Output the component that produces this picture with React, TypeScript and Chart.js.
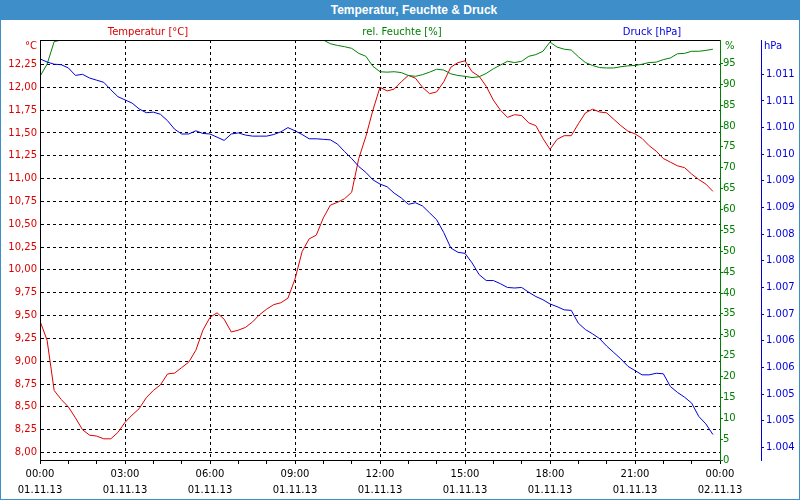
import React, { useEffect, useRef } from 'react';
import { Chart, registerables } from 'chart.js';

Chart.register(...registerables);

// ---- data (one reading every 15 minutes, starting 01.11.13 00:00) ----
const STEP_HOURS = 0.25;

const temperature = [
  9.44, 9.23, 8.68, 8.58, 8.50, 8.38, 8.25, 8.19, 8.18, 8.15, 8.15, 8.22,
  8.33, 8.41, 8.48, 8.60, 8.68, 8.74, 8.86, 8.87, 8.93, 8.99, 9.12, 9.34,
  9.48, 9.53, 9.46, 9.32, 9.34, 9.37, 9.43, 9.51, 9.57, 9.62, 9.64, 9.69,
  9.90, 10.20, 10.34, 10.38, 10.57, 10.71, 10.74, 10.78, 10.85, 11.22, 11.46, 11.75,
  12.00, 11.96, 11.98, 12.06, 12.13, 12.10, 12.00, 11.93, 11.95, 12.06, 12.22, 12.27,
  12.29, 12.17, 12.12, 12.01, 11.86, 11.75, 11.67, 11.70, 11.69, 11.61, 11.58, 11.44,
  11.32, 11.43, 11.47, 11.47, 11.60, 11.72, 11.76, 11.73, 11.72, 11.65, 11.58, 11.52,
  11.49, 11.44, 11.36, 11.30, 11.22, 11.18, 11.14, 11.12, 11.05, 10.99, 10.94, 10.86,
];

const humidity = [
  91.9, 94.8, 100.2, 100.6, 100.6, 100.6, 100.6, 100.6, 100.6, 100.6, 100.6, 100.6,
  100.6, 100.6, 100.6, 100.6, 100.6, 100.6, 100.6, 100.6, 100.6, 100.6, 100.6, 100.6,
  100.6, 100.6, 100.6, 100.6, 100.6, 100.6, 100.6, 100.6, 100.6, 100.6, 100.6, 100.6,
  100.6, 100.6, 100.6, 100.6, 100.6, 99.7, 99.3, 99.0, 98.6, 97.4, 96.7, 94.3,
  93.0, 92.9, 93.0, 92.8, 92.1, 91.9, 92.3, 92.9, 93.6, 93.4, 92.5, 92.1,
  91.9, 91.6, 91.8, 92.6, 93.7, 94.6, 95.5, 95.2, 95.5, 96.7, 97.1, 97.9,
  100.1, 98.9, 98.4, 98.2, 96.6, 95.2, 94.5, 94.0, 93.9, 93.9, 94.2, 94.4,
  94.5, 94.8, 95.2, 95.3, 95.9, 96.3, 97.3, 97.4, 97.9, 97.9, 98.1, 98.4,
];

const pressure = [
  1011.29, 1011.23, 1011.19, 1011.18, 1011.12, 1010.98, 1011.00, 1010.93, 1010.89, 1010.85, 1010.71, 1010.58,
  1010.52, 1010.46, 1010.35, 1010.28, 1010.29, 1010.25, 1010.13, 1009.97, 1009.88, 1009.88, 1009.94, 1009.89,
  1009.88, 1009.82, 1009.76, 1009.88, 1009.90, 1009.86, 1009.84, 1009.84, 1009.84, 1009.87, 1009.92, 1010.00,
  1009.94, 1009.87, 1009.79, 1009.79, 1009.78, 1009.77, 1009.69, 1009.55, 1009.42, 1009.27, 1009.16, 1009.02,
  1008.94, 1008.89, 1008.77, 1008.68, 1008.56, 1008.59, 1008.53, 1008.40, 1008.27, 1008.03, 1007.74, 1007.66,
  1007.64, 1007.46, 1007.24, 1007.13, 1007.13, 1007.07, 1007.00, 1006.99, 1007.00, 1006.91, 1006.83, 1006.77,
  1006.69, 1006.64, 1006.58, 1006.57, 1006.33, 1006.21, 1006.13, 1006.04, 1005.90, 1005.78, 1005.66, 1005.52,
  1005.44, 1005.36, 1005.36, 1005.39, 1005.38, 1005.14, 1005.03, 1004.94, 1004.83, 1004.58, 1004.44, 1004.24,
];

const hourTicks = [0, 1, 2, 3, 4, 5, 6, 7, 8, 9, 10, 11, 12, 13, 14, 15, 16, 17, 18, 19, 20, 21, 22, 23, 24];
const timeLabels = ['00:00', '03:00', '06:00', '09:00', '12:00', '15:00', '18:00', '21:00', '00:00'];
const dateLabels = ['01.11.13', '01.11.13', '01.11.13', '01.11.13', '01.11.13', '01.11.13', '01.11.13', '01.11.13', '02.11.13'];
const tempTicks = [8, 8.25, 8.5, 8.75, 9, 9.25, 9.5, 9.75, 10, 10.25, 10.5, 10.75, 11, 11.25, 11.5, 11.75, 12, 12.25];
const humidityTicks = [0, 5, 10, 15, 20, 25, 30, 35, 40, 45, 50, 55, 60, 65, 70, 75, 80, 85, 90, 95];
const pressureTicks = [1004, 1004.5, 1005, 1005.5, 1006, 1006.5, 1007, 1007.5, 1008, 1008.5, 1009, 1009.5, 1010, 1010.5, 1011];

const chartTitle = 'Temperatur, Feuchte & Druck';
const seriesTitles = ['Temperatur [°C]', 'rel. Feuchte [%]', 'Druck [hPa]'];
const axisUnits = ['°C', '%', 'hPa'];

// ---- styles ----
const RED = '#dc0000';
const GREEN = '#008000';
const BLUE = '#0000dc';
const FRAME_BLUE = '#3d8ec9';
const FONT = '"DejaVu Sans", Verdana, sans-serif';

const toPoints = (arr: number[]) => arr.map((v, i) => ({ x: i * STEP_HOURS, y: v }));

const fmtTemp = (v: number) => v.toFixed(2).replace('.', ',');
const fmtPressure = (v: number) => {
  const r = Math.round(v);
  return `${Math.floor(r / 1000)}.${String(r % 1000).padStart(3, '0')}`;
};

const decorPlugin = {
  id: 'decor',
  afterDatasetsDraw(chart: any) {
    const { ctx, chartArea } = chart;
    const { left, right, top, bottom } = chartArea;
    ctx.save();
    ctx.lineWidth = 1;
    ctx.strokeStyle = '#000';
    ctx.beginPath();
    ctx.moveTo(left, top + 0.5);
    ctx.lineTo(right + 1, top + 0.5);
    ctx.moveTo(left + 0.5, top);
    ctx.lineTo(left + 0.5, bottom + 1);
    ctx.moveTo(left, bottom + 0.5);
    ctx.lineTo(right + 1, bottom + 0.5);
    ctx.stroke();
    ctx.strokeStyle = GREEN;
    ctx.beginPath();
    ctx.moveTo(right + 0.5, top);
    ctx.lineTo(right + 0.5, bottom + 1);
    ctx.stroke();
    ctx.restore();
  },
  afterDraw(chart: any) {
    const { ctx, chartArea, scales } = chart;
    ctx.save();
    ctx.font = `10px ${FONT}`;
    ctx.textBaseline = 'middle';
    // series captions above plot
    ctx.textAlign = 'center';
    ctx.fillStyle = RED;
    ctx.fillText(seriesTitles[0], 148, 32);
    ctx.fillStyle = GREEN;
    ctx.fillText(seriesTitles[1], 402, 32);
    ctx.fillStyle = BLUE;
    ctx.fillText(seriesTitles[2], 652, 32);
    // axis unit captions
    const unitY = chartArea.top + 6.5;
    ctx.textAlign = 'right';
    ctx.fillStyle = RED;
    ctx.fillText(axisUnits[0], chartArea.left - 3, unitY);
    ctx.textAlign = 'left';
    ctx.fillStyle = GREEN;
    ctx.fillText(axisUnits[1], scales.yH.left + 5, unitY);
    ctx.fillStyle = BLUE;
    ctx.fillText(axisUnits[2], scales.yP.left + 3, unitY);
    ctx.restore();
  },
};

function ChartCanvas() {
  const ref = useRef<HTMLCanvasElement | null>(null);
  useEffect(() => {
    if (!ref.current) return;
    const chart = new Chart(ref.current, {
      type: 'line',
      data: {
        datasets: [
          {
            label: seriesTitles[2],
            data: toPoints(pressure),
            yAxisID: 'yP',
            borderColor: BLUE,
            borderWidth: 1,
            pointRadius: 0,
            tension: 0,
            clip: 0,
          },
          {
            label: seriesTitles[1],
            data: toPoints(humidity),
            yAxisID: 'yH',
            borderColor: GREEN,
            borderWidth: 1,
            pointRadius: 0,
            tension: 0,
            clip: 0,
          },
          {
            label: seriesTitles[0],
            data: toPoints(temperature),
            yAxisID: 'yT',
            borderColor: RED,
            borderWidth: 1,
            pointRadius: 0,
            tension: 0,
            clip: 0,
          },
        ],
      } as any,
      options: {
        responsive: false,
        animation: false,
        events: [],
        layout: { padding: { left: 0, right: 0, top: 40, bottom: 0 } },
        plugins: {
          legend: { display: false },
          tooltip: { enabled: false },
          title: { display: false },
        },
        font: { family: FONT, size: 10 },
        scales: {
          x: {
            type: 'linear',
            min: 0,
            max: 24,
            afterBuildTicks: (s: any) => {
              s.ticks = hourTicks.map((v) => ({ value: v }));
            },
            afterFit: (s: any) => {
              s.height = 40;
            },
            grid: {
              display: true,
              drawOnChartArea: true,
              drawTicks: true,
              tickLength: 4,
              lineWidth: 1,
              color: (c: any) => (c.tick && c.tick.value % 3 === 0 ? '#000' : 'rgba(0,0,0,0)'),
              tickColor: '#000',
              tickBorderDash: [],
            },
            border: { display: true, color: '#000', width: 1, dash: [3, 3] },
            ticks: {
              autoSkip: false,
              maxRotation: 0,
              minRotation: 0,
              padding: 3,
              color: '#000',
              font: { family: FONT, size: 10, lineHeight: 1.55 },
              callback: (value: any) => {
                const v = Number(value);
                if (v % 3 !== 0) return '';
                const i = v / 3;
                return [timeLabels[i], dateLabels[i]];
              },
            },
          },
          yT: {
            type: 'linear',
            position: 'left',
            min: 7.918,
            max: 12.518,
            afterBuildTicks: (s: any) => {
              s.ticks = tempTicks.map((v) => ({ value: v }));
            },
            afterFit: (s: any) => {
              s.width = 40;
            },
            grid: { display: true, drawOnChartArea: true, drawTicks: false, color: '#000', lineWidth: 1 },
            border: { display: true, color: '#000', width: 1, dash: [3, 3] },
            ticks: {
              padding: 3,
              color: RED,
              font: { family: FONT, size: 10 },
              callback: (value: any) => fmtTemp(Number(value)),
            },
          },
          yH: {
            type: 'linear',
            position: 'right',
            weight: 0,
            min: 0,
            max: 100.6,
            afterBuildTicks: (s: any) => {
              s.ticks = humidityTicks.map((v) => ({ value: v }));
            },
            afterFit: (s: any) => {
              s.width = 41;
            },
            grid: { display: true, drawOnChartArea: false, drawTicks: true, tickLength: 3, color: GREEN, tickColor: GREEN },
            border: { display: true, color: GREEN, width: 1 },
            ticks: {
              padding: 0,
              color: GREEN,
              font: { family: FONT, size: 10 },
              callback: (value: any) => String(Number(value)),
            },
          },
          yP: {
            type: 'linear',
            position: 'right',
            weight: 1,
            min: 1003.762,
            max: 1011.644,
            afterBuildTicks: (s: any) => {
              s.ticks = pressureTicks.map((v) => ({ value: v }));
            },
            afterFit: (s: any) => {
              s.width = 39;
            },
            grid: { display: true, drawOnChartArea: false, drawTicks: true, tickLength: 3, color: BLUE, tickColor: BLUE },
            border: { display: true, color: BLUE, width: 1 },
            ticks: {
              padding: 2,
              color: BLUE,
              font: { family: FONT, size: 10 },
              callback: (value: any) => fmtPressure(Number(value)),
            },
          },
        },
      } as any,
      plugins: [decorPlugin],
    });
    return () => chart.destroy();
  }, []);
  return <canvas ref={ref} width={800} height={500} style={{ position: 'absolute', left: 0, top: 0, width: 800, height: 500 }} />;
}

export default function App() {
  return (
    <div style={{ position: 'fixed', left: 0, top: 0, width: 800, height: 500, background: '#ffffff', overflow: 'hidden' }}>
      <ChartCanvas />
      <div
        style={{
          position: 'absolute',
          left: 0,
          top: 0,
          width: 800,
          height: 20,
          background: FRAME_BLUE,
          color: '#ffffff',
          font: 'bold 12px "Liberation Sans", Arial, sans-serif',
          lineHeight: '20px',
          textAlign: 'center',
          paddingLeft: 28,
          boxSizing: 'border-box',
        }}
      >
        {chartTitle}
      </div>
      <div
        style={{
          position: 'absolute',
          left: 0,
          top: 0,
          width: 800,
          height: 500,
          boxSizing: 'border-box',
          border: `1px solid ${FRAME_BLUE}`,
          pointerEvents: 'none',
        }}
      />
    </div>
  );
}
